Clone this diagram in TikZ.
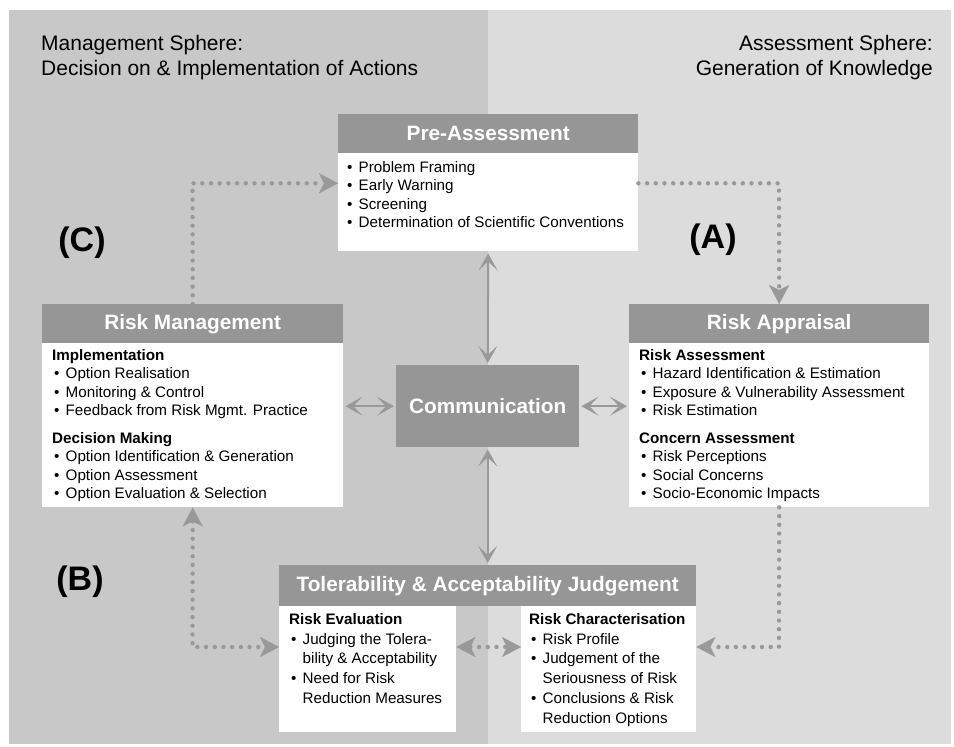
\documentclass[tikz,border=0pt]{standalone}
\usepackage{fontspec}
\setmainfont{Liberation Sans}
\usetikzlibrary{arrows.meta}
\definecolor{mgmt}{HTML}{C8C8C8}
\definecolor{assess}{HTML}{DCDCDC}
\definecolor{hdrgray}{HTML}{969696}
\definecolor{linkgray}{HTML}{999999}
% bullet item, continuation indent and top strut for the box texts
\newcommand{\bul}{\makebox[13.5pt][l]{\hspace{2pt}\textbullet}}
\newcommand{\cont}{\hspace*{13.5pt}}
\newcommand{\topstrut}{\rule{0pt}{11pt}}
\begin{document}
\begin{tikzpicture}[x=1pt,y=-1pt,
  hdr/.style={fill=hdrgray, text=white, font=\bfseries\fontsize{20.8}{24}\selectfont,
    inner sep=0pt, anchor=north west},
  panel/.style={fill=white, inner sep=0pt, anchor=north west},
  bodytext/.style={anchor=north west, inner sep=0pt, align=left,
    font=\fontsize{15.2}{18.5}\selectfont},
  toltext/.style={bodytext, font=\fontsize{15.2}{19.8}\selectfont},
  title/.style={inner sep=0pt, font=\fontsize{21}{25}\selectfont},
  lbl/.style={inner sep=0pt, font=\bfseries\fontsize{34}{40}\selectfont},
  solidlink/.style={draw=linkgray, line width=2pt,
    {Stealth[length=17pt,width=19pt,inset=9pt]}-{Stealth[length=17pt,width=19pt,inset=9pt]},
    shorten <=2pt, shorten >=2pt},
  dotlink/.style={draw=linkgray, line width=4.4pt, line cap=round,
    dash pattern=on 0pt off 8.7pt,
    -{Stealth[length=19pt,width=20pt,inset=5pt,line width=0.1pt]}},
  dotlinkboth/.style={dotlink,
    {Stealth[length=19pt,width=20pt,inset=5pt,line width=0.1pt]}-{Stealth[length=19pt,width=20pt,inset=5pt,line width=0.1pt]}}
]
\useasboundingbox (0,0) rectangle (954,747);

% the two spheres
\fill[mgmt] (9,10) rectangle (488,744);
\fill[assess] (488,10) rectangle (951,744);

% sphere titles
\node[title, anchor=base west] (mt1) at (41,50) {Management Sphere:};
\node[title, anchor=base west] (mt2) at (41,75.5) {Decision on \& Implementation of Actions};
\node[title, anchor=base east] (at1) at (933,50) {Assessment Sphere:};
\node[title, anchor=base east] (at2) at (933,75.5) {Generation of Knowledge};

% phase labels
\node[lbl] (labC) at (82,243) {(C)};
\node[lbl] (labA) at (713,240) {(A)};
\node[lbl] (labB) at (80,582) {(B)};

% Pre-Assessment
\node[hdr, minimum width=300pt, minimum height=39pt] (preh) at (338,114) {Pre-Assessment};
\node[panel, minimum width=300pt, minimum height=98pt] (preb) at (338,153) {};
\node[bodytext] (pret) at (345,161) {\topstrut\bul Problem Framing\\
  \bul Early Warning\\ \bul Screening\\ \bul Determination of Scientific Conventions};

% Risk Management
\node[hdr, minimum width=301pt, minimum height=39pt] (rmh) at (42,304) {Risk Management};
\node[panel, minimum width=301pt, minimum height=164pt] (rmb) at (42,343) {};
\node[bodytext] (rmt) at (52,349) {\topstrut\textbf{Implementation}\\
  \bul Option Realisation\\ \bul Monitoring \& Control\\
  \bul Feedback from Risk Mgmt. Practice\\[9pt]
  \textbf{Decision Making}\\ \bul Option Identification \& Generation\\
  \bul Option Assessment\\ \bul Option Evaluation \& Selection};

% Risk Appraisal
\node[hdr, minimum width=300pt, minimum height=39pt] (rah) at (629,304) {Risk Appraisal};
\node[panel, minimum width=300pt, minimum height=164pt] (rab) at (629,343) {};
\node[bodytext] (rat) at (639,349) {\topstrut\textbf{Risk Assessment}\\
  \bul Hazard Identification \& Estimation\\
  \bul Exposure \& Vulnerability Assessment\\ \bul Risk Estimation\\[9pt]
  \textbf{Concern Assessment}\\ \bul Risk Perceptions\\
  \bul Social Concerns\\ \bul Socio-Economic Impacts};

% Communication
\node[hdr, minimum width=183pt, minimum height=82pt] (comm) at (396,365) {Communication};

% Tolerability & Acceptability Judgement
\node[hdr, minimum width=417pt, minimum height=41pt] (tolh) at (279,565)
  {Tolerability \& Acceptability Judgement};
\node[panel, minimum width=177pt, minimum height=126pt] (tlb) at (279,606) {};
\node[panel, minimum width=175pt, minimum height=126pt] (trb) at (521,606) {};
\node[toltext] (tlt) at (289,613) {\topstrut\textbf{Risk Evaluation}\\
  \bul Judging the Tolera-\\ \cont bility \& Acceptability\\
  \bul Need for Risk\\ \cont Reduction Measures};
\node[toltext] (trt) at (529,613) {\topstrut\textbf{Risk Characterisation}\\
  \bul Risk Profile\\ \bul Judgement of the\\ \cont Seriousness of Risk\\
  \bul Conclusions \& Risk\\ \cont Reduction Options};

% communication links
\draw[solidlink] (preb.south) -- (comm.north);
\draw[solidlink] (comm.south) -- (tolh.north);
\draw[solidlink] (rmb.east |- comm) -- (comm.west);
\draw[solidlink] (comm.east) -- (rab.west |- comm);

% cycle corners
\coordinate (tl) at (192.5,183.3);
\coordinate (tr) at (779,183.3);
\coordinate (br) at (779,647);
\coordinate (bl) at (192.5,647);

% the risk governance cycle
\draw[dotlink] (rmh.north) -- (tl) -- (preb.west |- tl);
\draw[dotlink] (preb.east |- tr) -- (tr) -- (rah.north);
\draw[dotlink] (rab.south) -- (br) -- (trb.east |- br);
\draw[dotlinkboth] (rmb.south) -- (bl) -- (tlb.west |- bl);
\draw[dotlinkboth] (tlb.east |- bl) -- (trb.west |- bl);
\end{tikzpicture}
\end{document}
